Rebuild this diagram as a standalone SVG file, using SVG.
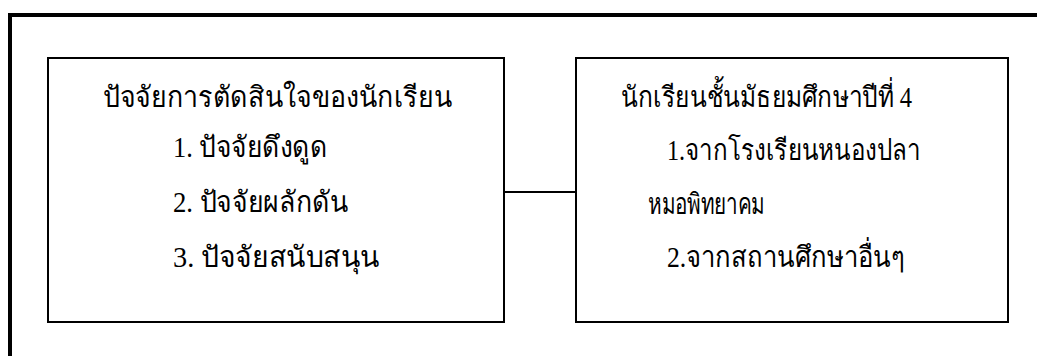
<svg xmlns="http://www.w3.org/2000/svg" width="1037" height="356" viewBox="0 0 1037 356">
<style>
.frame{fill:none;stroke:#000;stroke-width:4}
.box{fill:#fff;stroke:#000;stroke-width:2}
.conn{stroke:#000;stroke-width:2;fill:none}
text{font-family:"Liberation Serif","DejaVu Serif",serif;font-size:29px;fill:#000}
</style>
<rect width="1037" height="356" fill="#fff"/>
<g id="frame"><path class="frame" d="M10,356 V15 H1037"/></g>
<g id="connectors"><line class="conn" x1="504" y1="192" x2="576" y2="192"/></g>
<g id="node-factors">
<rect class="box" x="48" y="58" width="456" height="264"/>
<text x="103" y="107" textLength="349" lengthAdjust="spacingAndGlyphs">ปัจจัยการตัดสินใจของนักเรียน</text>
<text x="173" y="157" textLength="154" lengthAdjust="spacingAndGlyphs">1. ปัจจัยดึงดูด</text>
<text x="173" y="212" textLength="175" lengthAdjust="spacingAndGlyphs">2. ปัจจัยผลักดัน</text>
<text x="173" y="267" textLength="207" lengthAdjust="spacingAndGlyphs">3. ปัจจัยสนับสนุน</text>
</g>
<g id="node-students">
<rect class="box" x="576" y="58" width="432" height="264"/>
<text x="621" y="107" textLength="291" lengthAdjust="spacingAndGlyphs">นักเรียนชั้นมัธยมศึกษาปีที่ 4</text>
<text x="667" y="160" textLength="253" lengthAdjust="spacingAndGlyphs">1.จากโรงเรียนหนองปลา</text>
<text x="648" y="214" textLength="117" lengthAdjust="spacingAndGlyphs">หมอพิทยาคม</text>
<text x="667" y="267" textLength="238" lengthAdjust="spacingAndGlyphs">2.จากสถานศึกษาอื่นๆ</text>
</g>
</svg>
